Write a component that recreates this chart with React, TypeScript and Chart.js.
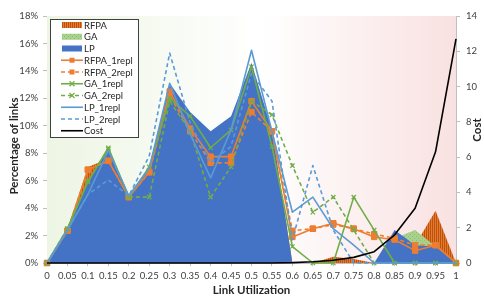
import React, { useEffect, useRef } from 'react';
import { Chart, registerables } from 'chart.js';
Chart.register(...registerables);

const labels = ['0', '0.05', '0.1', '0.15', '0.2', '0.25', '0.3', '0.35', '0.4', '0.45', '0.5', '0.55', '0.6', '0.65', '0.7', '0.75', '0.8', '0.85', '0.9', '0.95', '1'];

const rfpaArea = [0, 2.3, 7.0, 7.6, 4.8, 6.7, 12.5, 9.9, 7.8, 7.8, 11.8, 9.7, 0, 0, 0.45, 0.3, 0, 0.8, 1.3, 3.8, 0];
const gaArea = [0, 2.4, 6.0, 8.4, 4.8, 6.9, 12.0, 10.7, 8.4, 9.7, 14.3, 8.6, 0, 0, 0, 0, 0, 1.8, 2.4, 1.2, 0];
const lpArea = [0, 2.4, 6.0, 8.3, 4.9, 7.0, 13.1, 11.0, 9.6, 10.7, 14.6, 9.7, 0, 0, 0, 0, 0, 2.4, 1.3, 1.2, 0];
const rfpa1 = [0, 2.35, 6.8, 7.45, 4.8, 6.65, 12.5, 9.8, 7.75, 7.75, 11.8, 9.6, 1.9, 2.5, 2.9, 2.5, 1.9, 1.7, 0.9, 1.3, 0];
const rfpa2 = [0, 2.35, 6.8, 7.45, 4.8, 6.6, 12.2, 9.6, 7.3, 7.3, 11.0, 9.6, 2.35, 2.5, 2.8, 2.5, 2.1, 1.8, 1.3, 1.3, 0];
const ga1 = [0, 2.5, 5.9, 8.4, 4.8, 7.0, 12.0, 10.7, 8.4, 9.7, 14.3, 8.5, 1.2, 0, 0, 4.8, 2.4, 0, 0, 0, 0];
const ga2 = [0, 2.5, 6.0, 8.3, 4.8, 4.8, 11.8, 9.6, 4.8, 7.0, 11.8, 10.8, 7.1, 3.7, 4.8, 2.4, 0, 0, 0, 0, 0];
const lp1 = [0, 2.4, 5.0, 8.2, 4.9, 6.9, 13.1, 9.4, 6.2, 9.7, 15.5, 9.6, 3.7, 4.8, 2.5, 1.3, 0, 0, 0, 0, 0];
const lp2 = [0, 2.4, 5.0, 6.05, 4.9, 7.8, 15.3, 10.2, 7.3, 8.5, 13.8, 11.8, 1.7, 7.1, 2.4, 0, 0, 0, 0, 0, 0];
const cost = [0, 0, 0, 0, 0, 0, 0, 0, 0, 0, 0, 0, 0.02, 0.07, 0.16, 0.32, 0.64, 1.6, 3.1, 6.3, 12.7];

const leftTitle = 'Percentage of links';
const rightTitle = 'Cost';
const bottomTitle = 'Link Utilization';

const FONT = 'Lato, "Open Sans", sans-serif';

function makePattern(kind: 'rfpa' | 'ga') {
  const c = document.createElement('canvas');
  c.width = 4; c.height = 4;
  const g = c.getContext('2d')!;
  if (kind === 'rfpa') {
    g.fillStyle = '#E8782E';
    g.fillRect(0, 0, 4, 4);
    g.fillStyle = '#B8540F';
    g.fillRect(0, 0, 1, 4);
    g.fillRect(2, 0, 1, 4);
  } else {
    g.fillStyle = '#A9D18E';
    g.fillRect(0, 0, 4, 4);
    g.fillStyle = '#8CC06A';
    g.fillRect(0, 0, 1, 1);
    g.fillRect(2, 2, 1, 1);
  }
  return g.createPattern(c, 'repeat')!;
}

export default function App() {
  const ref = useRef<HTMLCanvasElement>(null);
  useEffect(() => {
    document.body.style.margin = '0';
    const rfpaPat = makePattern('rfpa');
    const gaPat = makePattern('ga');

    const bgPlugin = {
      id: 'bgGrad',
      beforeDatasetsDraw(chart: any) {
        const { ctx, chartArea: a } = chart;
        const grad = ctx.createLinearGradient(a.left, 0, a.right, 0);
        grad.addColorStop(0, '#EDF5E4');
        grad.addColorStop(0.52, '#FFFFFF');
        grad.addColorStop(1, '#F9E1E1');
        ctx.save();
        ctx.fillStyle = grad;
        ctx.fillRect(a.left, a.top, a.right - a.left, a.bottom - a.top);
        ctx.restore();
      },
    };

    const legendPlugin = {
      id: 'boxLegend',
      afterDraw(chart: any) {
        const { ctx, chartArea: a } = chart;
        const x0 = a.left + 3, y0 = a.top + 3, w = 88, h = 118;
        ctx.save();
        ctx.fillStyle = '#ffffff';
        ctx.fillRect(x0, y0, w, h);
        ctx.strokeStyle = '#404040';
        ctx.lineWidth = 1;
        ctx.strokeRect(x0 + 0.5, y0 + 0.5, w, h);
        chart.data.datasets.forEach((ds: any, i: number) => {
          const cy = y0 + 6 + i * 11.75;
          const sx = x0 + 11, ex = x0 + 33;
          if (ds.fill) {
            ctx.fillStyle = ds.backgroundColor;
            ctx.fillRect(sx + 1, cy - 3, ex - sx - 2, 6);
          } else {
            ctx.strokeStyle = ds.borderColor;
            ctx.lineWidth = ds.borderWidth;
            ctx.setLineDash(ds.borderDash || []);
            ctx.beginPath();
            ctx.moveTo(sx, cy);
            ctx.lineTo(ex, cy);
            ctx.stroke();
            ctx.setLineDash([]);
            const mx = (sx + ex) / 2;
            if (ds.pointStyle === 'rect' && ds.pointRadius > 0) {
              ctx.fillStyle = ds.borderColor;
              ctx.fillRect(mx - 2.5, cy - 2.5, 5, 5);
            } else if (ds.pointStyle === 'crossRot' && ds.pointRadius > 0) {
              ctx.lineWidth = 1.2;
              ctx.beginPath();
              ctx.moveTo(mx - 2.5, cy - 2.5); ctx.lineTo(mx + 2.5, cy + 2.5);
              ctx.moveTo(mx - 2.5, cy + 2.5); ctx.lineTo(mx + 2.5, cy - 2.5);
              ctx.stroke();
            }
          }
          ctx.fillStyle = '#262626';
          ctx.font = `9.5px ${FONT}`;
          ctx.textAlign = 'left';
          ctx.textBaseline = 'middle';
          ctx.fillText(ds.label, ex + 1, cy + 0.5);
        });
        // axis titles
        ctx.fillStyle = '#262626';
        ctx.font = `bold 11.5px ${FONT}`;
        ctx.textAlign = 'center';
        ctx.textBaseline = 'middle';
        ctx.save();
        ctx.translate(14, 146);
        ctx.rotate(-Math.PI / 2);
        ctx.fillText(leftTitle, 0, 0);
        ctx.restore();
        ctx.save();
        ctx.translate(477, 130);
        ctx.rotate(-Math.PI / 2);
        ctx.fillText(rightTitle, 0, 0);
        ctx.restore();
        ctx.restore();
      },
    };

    const lineDs = (label: string, data: number[], color: string, dashed: boolean, style: string | false, order: number) => ({
      type: 'line' as const,
      label,
      data,
      borderColor: color,
      backgroundColor: color,
      borderWidth: 1.6,
      borderDash: dashed ? [4, 3] : [],
      fill: false,
      pointStyle: style || 'circle',
      pointRadius: style ? (style === 'rect' ? 3.8 : 3) : 0,
      pointBorderWidth: style === 'crossRot' ? 1.3 : 1,
      pointBorderColor: color,
      pointBackgroundColor: color,
      tension: 0,
      clip: false as any,
      order,
      yAxisID: 'y',
    });

    const chart = new Chart(ref.current!, {
      type: 'line',
      data: {
        labels,
        datasets: [
          { label: 'RFPA', data: rfpaArea, fill: 'origin', backgroundColor: rfpaPat, borderWidth: 0, borderColor: 'rgba(0,0,0,0)', pointRadius: 0, order: 10, yAxisID: 'y' } as any,
          { label: 'GA', data: gaArea, fill: 'origin', backgroundColor: gaPat, borderWidth: 0, borderColor: 'rgba(0,0,0,0)', pointRadius: 0, order: 9, yAxisID: 'y' } as any,
          { label: 'LP', data: lpArea, fill: 'origin', backgroundColor: '#4472C4', borderWidth: 0, borderColor: 'rgba(0,0,0,0)', pointRadius: 0, order: 8, yAxisID: 'y' } as any,
          lineDs('RFPA_1repl', rfpa1, '#ED7D31', false, 'rect', 7),
          lineDs('RFPA_2repl', rfpa2, '#ED7D31', true, 'rect', 6),
          lineDs('GA_1repl', ga1, '#70AD47', false, 'crossRot', 5),
          lineDs('GA_2repl', ga2, '#70AD47', true, 'crossRot', 4),
          lineDs('LP_1repl', lp1, '#5B9BD5', false, false, 3),
          lineDs('LP_2repl', lp2, '#5B9BD5', true, false, 2),
          { ...lineDs('Cost', cost, '#000000', false, false, 1), yAxisID: 'y1', borderWidth: 1.6 },
        ],
      },
      options: {
        animation: false,
        responsive: false,
        layout: { padding: { top: 16, left: 0, right: 0, bottom: 0 } },
        plugins: { legend: { display: false }, tooltip: { enabled: false } },
        elements: { line: { borderJoinStyle: 'round' } },
        scales: {
          x: {
            type: 'category',
            offset: false,
            afterFit: (s: any) => { s.height = 36; },
            grid: { display: true, drawOnChartArea: false, drawTicks: true, tickLength: 3, color: '#BFBFBF' },
            border: { display: true, color: '#BFBFBF' },
            ticks: { autoSkip: false, maxRotation: 0, minRotation: 0, padding: 4, color: '#404040', font: { family: FONT, size: 9.5 } },
            title: { display: true, text: bottomTitle, color: '#262626', font: { family: FONT, size: 11.5, weight: 'bold' }, padding: { top: 0, bottom: 2 } },
          },
          y: {
            position: 'left',
            min: 0,
            max: 18,
            afterFit: (s: any) => { s.width = 47; },
            grid: { display: true, drawOnChartArea: false, drawTicks: true, tickLength: 4, color: '#BFBFBF' },
            border: { display: true, color: '#BFBFBF' },
            ticks: { stepSize: 2, padding: 5, color: '#404040', font: { family: FONT, size: 9.5 }, callback: (v: any) => `${v}%` },
          },
          y1: {
            position: 'right',
            min: 0,
            max: 14,
            afterFit: (s: any) => { s.width = 28; },
            grid: { display: true, drawOnChartArea: false, drawTicks: true, tickLength: 4, color: '#BFBFBF' },
            border: { display: true, color: '#BFBFBF' },
            ticks: { stepSize: 2, padding: 6, color: '#404040', font: { family: FONT, size: 9.5 } },
          },
        },
      } as any,
      plugins: [bgPlugin, legendPlugin],
    });
    return () => chart.destroy();
  }, []);
  return (
    <div style={{ width: 484, height: 299 }}>
      <canvas ref={ref} width={484} height={299} style={{ display: 'block' }} />
    </div>
  );
}
